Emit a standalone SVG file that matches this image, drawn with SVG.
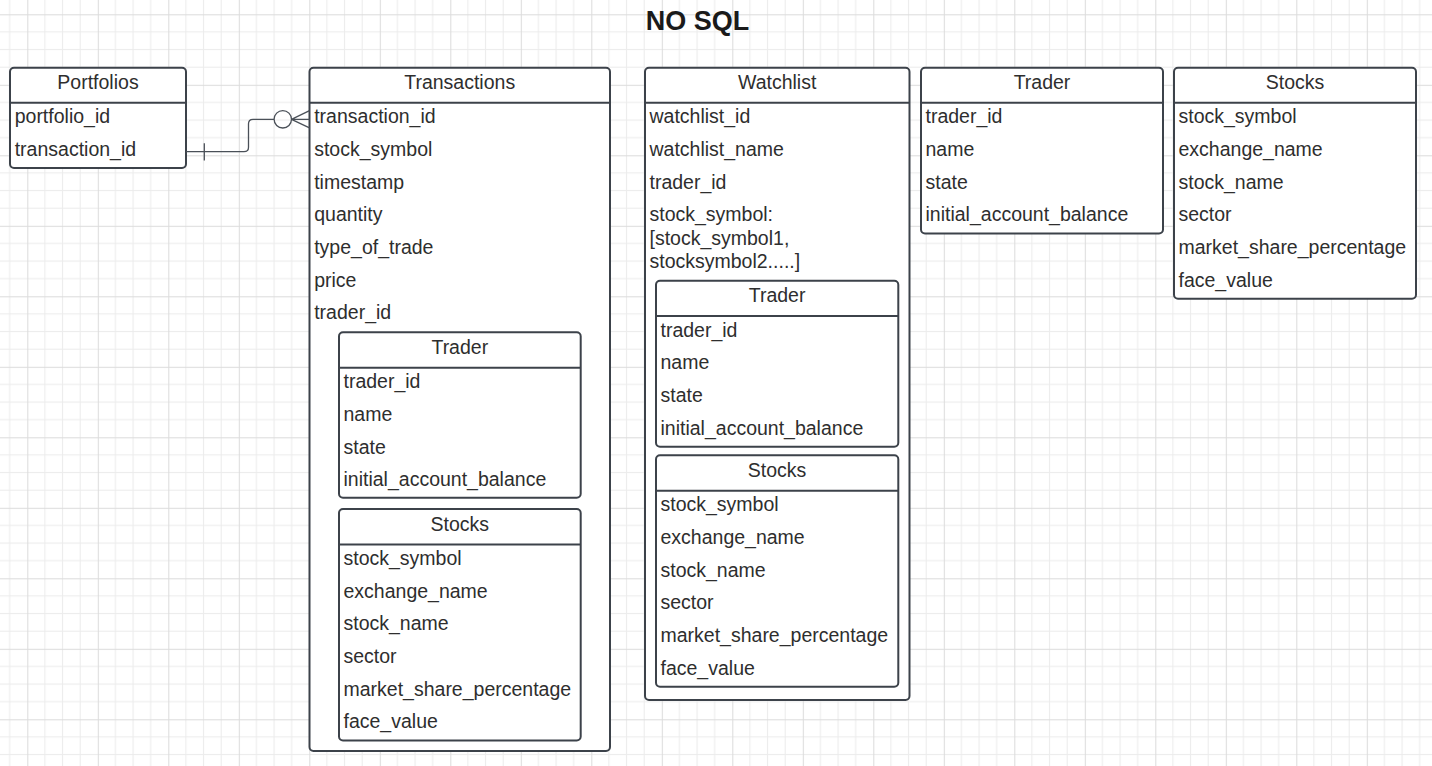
<svg xmlns="http://www.w3.org/2000/svg" width="1432" height="766" viewBox="0 0 1432 766">
<style>
.box{fill:#ffffff;stroke:#3c424a;stroke-width:2}
.sep{stroke:#3c424a;stroke-width:2}
.t{font-family:"Liberation Sans",Arial,sans-serif;font-size:19.5px;fill:#2e2e2e}
.h{font-family:"Liberation Sans",Arial,sans-serif;font-size:19.5px;fill:#2e2e2e;text-anchor:middle}
.title{font-family:"Liberation Sans",Arial,sans-serif;font-size:27px;font-weight:bold;fill:#1a1a1a;text-anchor:middle}
.conn{fill:none;stroke:#4a5058;stroke-width:1.3}
</style>
<defs>
<pattern id="grid" patternUnits="userSpaceOnUse" x="27.3" y="14.3" width="70.5" height="70.5">
<rect x="0" y="0" width="70.5" height="70.5" fill="#ffffff"/>
<rect x="17.1" y="0" width="1" height="70.5" fill="#ececec"/>
<rect x="34.75" y="0" width="1" height="70.5" fill="#ececec"/>
<rect x="52.4" y="0" width="1" height="70.5" fill="#ececec"/>
<rect x="0" y="17.1" width="70.5" height="1" fill="#ececec"/>
<rect x="0" y="34.75" width="70.5" height="1" fill="#ececec"/>
<rect x="0" y="52.4" width="70.5" height="1" fill="#ececec"/>
<rect x="0" y="0" width="1" height="70.5" fill="#dcdcdc"/>
<rect x="0" y="0" width="70.5" height="1" fill="#dcdcdc"/>
</pattern>
</defs>
<rect x="0" y="0" width="1432" height="766" fill="url(#grid)"/>
<text class="title" x="697.5" y="29.5">NO SQL</text>

<g id="portfolios">
<rect class="box" x="10" y="67.7" width="176" height="100.3" rx="4"/>
<line class="sep" x1="10" y1="102.7" x2="186" y2="102.7"/>
<text class="h" x="98" y="89.3">Portfolios</text>
<text class="t" x="14.7" y="123.3">portfolio_id</text>
<text class="t" x="14.7" y="156">transaction_id</text>
</g>

<g id="transactions">
<rect class="box" x="309.5" y="67.7" width="300.5" height="683.3" rx="4"/>
<line class="sep" x1="309.5" y1="102.7" x2="610" y2="102.7"/>
<text class="h" x="459.7" y="89.3">Transactions</text>
<text class="t" x="314.2" y="123.3">transaction_id</text>
<text class="t" x="314.2" y="156">stock_symbol</text>
<text class="t" x="314.2" y="188.6">timestamp</text>
<text class="t" x="314.2" y="221.3">quantity</text>
<text class="t" x="314.2" y="254">type_of_trade</text>
<text class="t" x="314.2" y="286.6">price</text>
<text class="t" x="314.2" y="319.3">trader_id</text>
<g id="transactions-trader">
<rect class="box" x="339" y="332.3" width="241.7" height="165.4" rx="4"/>
<line class="sep" x1="339" y1="367.7" x2="580.7" y2="367.7"/>
<text class="h" x="459.8" y="353.9">Trader</text>
<text class="t" x="343.5" y="388.3">trader_id</text>
<text class="t" x="343.5" y="421">name</text>
<text class="t" x="343.5" y="453.6">state</text>
<text class="t" x="343.5" y="486.3">initial_account_balance</text>
</g>
<g id="transactions-stocks">
<rect class="box" x="339" y="509" width="241.7" height="231.4" rx="4"/>
<line class="sep" x1="339" y1="544.4" x2="580.7" y2="544.4"/>
<text class="h" x="459.8" y="530.6">Stocks</text>
<text class="t" x="343.5" y="565">stock_symbol</text>
<text class="t" x="343.5" y="597.7">exchange_name</text>
<text class="t" x="343.5" y="630.3">stock_name</text>
<text class="t" x="343.5" y="663">sector</text>
<text class="t" x="343.5" y="695.7">market_share_percentage</text>
<text class="t" x="343.5" y="728.4">face_value</text>
</g>
</g>

<g id="watchlist">
<rect class="box" x="645" y="67.7" width="264.5" height="632.3" rx="4"/>
<line class="sep" x1="645" y1="102.7" x2="909.5" y2="102.7"/>
<text class="h" x="777.2" y="89.3">Watchlist</text>
<text class="t" x="649.5" y="123.3">watchlist_id</text>
<text class="t" x="649.5" y="156">watchlist_name</text>
<text class="t" x="649.5" y="188.6">trader_id</text>
<text class="t" x="649.5" y="221.3">stock_symbol:</text>
<text class="t" x="649.5" y="244.8">[stock_symbol1,</text>
<text class="t" x="649.5" y="268.3">stocksymbol2.....]</text>
<g id="watchlist-trader">
<rect class="box" x="656" y="280.7" width="242.3" height="166.1" rx="4"/>
<line class="sep" x1="656" y1="316.1" x2="898.3" y2="316.1"/>
<text class="h" x="777.1" y="302.3">Trader</text>
<text class="t" x="660.5" y="336.7">trader_id</text>
<text class="t" x="660.5" y="369.4">name</text>
<text class="t" x="660.5" y="402">state</text>
<text class="t" x="660.5" y="434.7">initial_account_balance</text>
</g>
<g id="watchlist-stocks">
<rect class="box" x="656" y="455.3" width="242.3" height="231.4" rx="4"/>
<line class="sep" x1="656" y1="490.7" x2="898.3" y2="490.7"/>
<text class="h" x="777.1" y="476.9">Stocks</text>
<text class="t" x="660.5" y="511.3">stock_symbol</text>
<text class="t" x="660.5" y="544">exchange_name</text>
<text class="t" x="660.5" y="576.6">stock_name</text>
<text class="t" x="660.5" y="609.3">sector</text>
<text class="t" x="660.5" y="642">market_share_percentage</text>
<text class="t" x="660.5" y="674.7">face_value</text>
</g>
</g>

<g id="trader">
<rect class="box" x="921" y="67.7" width="242" height="165.7" rx="4"/>
<line class="sep" x1="921" y1="102.7" x2="1163" y2="102.7"/>
<text class="h" x="1042" y="89.3">Trader</text>
<text class="t" x="925.5" y="123.3">trader_id</text>
<text class="t" x="925.5" y="156">name</text>
<text class="t" x="925.5" y="188.6">state</text>
<text class="t" x="925.5" y="221.3">initial_account_balance</text>
</g>

<g id="stocks">
<rect class="box" x="1174" y="67.7" width="242" height="231" rx="4"/>
<line class="sep" x1="1174" y1="102.7" x2="1416" y2="102.7"/>
<text class="h" x="1295" y="89.3">Stocks</text>
<text class="t" x="1178.5" y="123.3">stock_symbol</text>
<text class="t" x="1178.5" y="156">exchange_name</text>
<text class="t" x="1178.5" y="188.6">stock_name</text>
<text class="t" x="1178.5" y="221.3">sector</text>
<text class="t" x="1178.5" y="254">market_share_percentage</text>
<text class="t" x="1178.5" y="286.6">face_value</text>
</g>

<g id="connectors">
<path class="conn" d="M186 151.7 H244 Q248.5 151.7 248.5 147.2 V123.8 Q248.5 119.3 253 119.3 H274"/>
<line class="conn" x1="204.3" y1="143.3" x2="204.3" y2="160.5"/>
<circle class="conn" cx="282.8" cy="119.3" r="8.7" fill="#ffffff"/>
<path class="conn" d="M291.5 119.3 H309.5 M291.5 119.3 L309.5 110.7 M291.5 119.3 L309.5 127.9"/>
</g>
</svg>
